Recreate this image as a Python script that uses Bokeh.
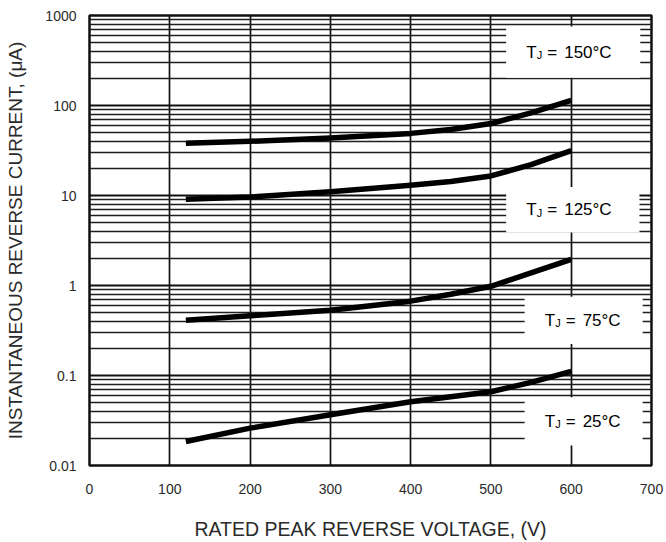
from bokeh.plotting import figure
from bokeh.models import Range1d, FixedTicker, PrintfTickFormatter, ColumnDataSource
from bokeh.embed import file_html
from bokeh.resources import INLINE
from bokeh.core.properties import value

# ---- data ----
voltage = [120, 200, 300, 400, 450, 500, 550, 600]
i_150 = [38, 40, 43.5, 49, 54, 63, 83, 114]
i_125 = [9.1, 9.6, 11.0, 13.0, 14.3, 16.5, 22, 31.5]
i_75 = [0.41, 0.46, 0.53, 0.67, 0.80, 0.98, 1.38, 1.95]
i_25 = [0.0185, 0.026, 0.0366, 0.051, 0.058, 0.066, 0.084, 0.111]

x_ticks = [0, 100, 200, 300, 400, 500, 600, 700]
y_ticks = [0.01, 0.1, 1, 10, 100, 1000]
temp_labels = ["150°C", "125°C", "75°C", "25°C"]

# ---- label box layout (annotation geometry) ----
box_left = [519, 519, 542, 542]
box_right = [686, 685, 689, 689]
box_bottom = [203, 3.88, 0.224, 0.0167]
box_top = [753, 12.4, 0.75, 0.0574]

FONT = "Liberation Sans"

p = figure(width=666, height=542, y_axis_type="log",
           x_range=Range1d(0, 700), y_range=Range1d(0.01, 1000),
           output_backend="svg", toolbar_location=None,
           min_border_left=89, min_border_right=15,
           min_border_top=15, min_border_bottom=77)

p.background_fill_color = "white"
p.border_fill_color = "white"
p.outline_line_color = "#111111"
p.outline_line_width = 2.5

# ticks
p.xaxis.ticker = FixedTicker(ticks=x_ticks)
minor_y = [m * d for d in y_ticks[:-1] for m in range(2, 10)]
p.yaxis.ticker = FixedTicker(ticks=y_ticks, minor_ticks=minor_y)
p.yaxis.formatter = PrintfTickFormatter(format="%g")

for ax in (p.xaxis, p.yaxis):
    ax.axis_line_color = None
    ax.major_tick_line_color = None
    ax.minor_tick_line_color = None
    ax.major_tick_in = 0
    ax.major_tick_out = 0
    ax.minor_tick_in = 0
    ax.minor_tick_out = 0
    ax.major_label_text_font = FONT
    ax.major_label_text_font_size = "14px"
    ax.major_label_text_color = "#2a2a2a"
    ax.axis_label_text_font = FONT
    ax.axis_label_text_font_style = "normal"
    ax.axis_label_text_color = "#2a2a2a"

p.xaxis.axis_label_text_font_size = "19.5px"
p.yaxis.axis_label_text_font_size = "19px"
p.xaxis.major_label_standoff = 18
p.yaxis.major_label_standoff = 13
p.xaxis.axis_label = "RATED PEAK REVERSE VOLTAGE, (V)"
p.yaxis.axis_label = "INSTANTANEOUS REVERSE CURRENT, (μA)"
p.xaxis.axis_label_standoff = 21
p.yaxis.axis_label_standoff = 16

# grids
p.xgrid.ticker = FixedTicker(ticks=x_ticks)
p.xgrid.grid_line_color = "#111111"
p.xgrid.grid_line_width = 1.7
p.ygrid.ticker = FixedTicker(ticks=y_ticks, minor_ticks=minor_y)
p.ygrid.grid_line_color = "#111111"
p.ygrid.grid_line_width = 1.9
p.ygrid.minor_grid_line_color = "#1e1e1e"
p.ygrid.minor_grid_line_width = 1.5

# curves
for series in (i_150, i_125, i_75, i_25):
    p.line(voltage, series, line_color="black", line_width=5.5,
           line_join="round", line_cap="butt")

# label boxes
p.quad(left=box_left, right=box_right, bottom=box_bottom, top=box_top,
       fill_color="white", line_color=None)

ycen = [(b * t) ** 0.5 for b, t in zip(box_bottom, box_top)]
src = ColumnDataSource(dict(x=box_left, y=ycen, temp=temp_labels,
                            T=["T"] * 4, J=["J"] * 4, eq=["="] * 4))

common = dict(source=src, text_baseline="middle", text_align="left",
              text_color="black", text_font=value(FONT))
p.text(x="x", y="y", text="T", x_offset=20, text_font_size="17px", **common)
p.text(x="x", y="y", text="J", x_offset=30.5, y_offset=3,
       text_font_size="11px", **common)
p.text(x="x", y="y", text="eq", x_offset=41, text_font_size="17px", **common)
p.text(x="x", y="y", text="temp", x_offset=58, text_font_size="17px", **common)

open("out.html", "w").write(file_html(p, INLINE))
